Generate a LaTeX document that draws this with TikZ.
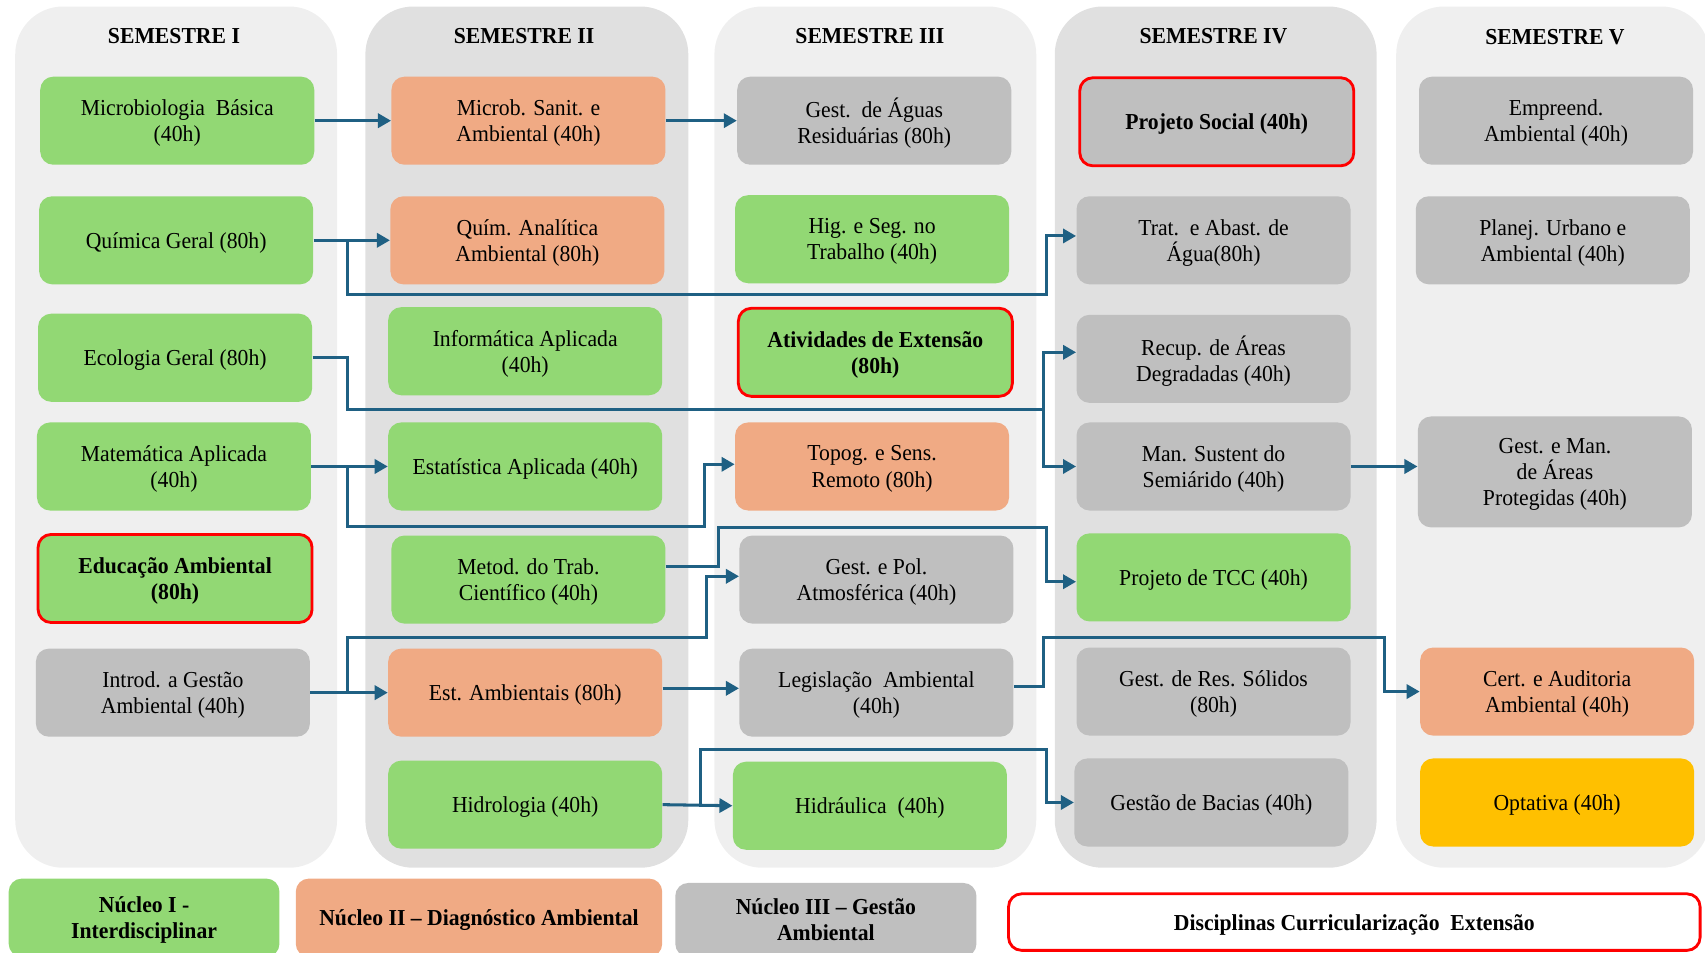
\documentclass[tikz,border=0pt]{standalone}
\usepackage{fontspec}
\setmainfont{Liberation Serif}[FakeStretch=0.95]
\usetikzlibrary{arrows.meta,calc}
\definecolor{grn}{RGB}{146,216,116}
\definecolor{org}{RGB}{240,170,132}
\definecolor{gry}{RGB}{191,191,191}
\definecolor{ylw}{RGB}{255,192,0}
\definecolor{panL}{RGB}{239,239,239}
\definecolor{panD}{RGB}{224,224,224}
\definecolor{lnk}{RGB}{31,96,131}
\definecolor{redb}{RGB}{255,0,0}
\begin{document}
\begin{tikzpicture}[x=0.5pt,y=-0.5pt,
  panel/.style={rounded corners=22pt, draw=none, inner sep=0pt},
  title/.style={font=\fontsize{10.5}{12}\selectfont\bfseries, inner sep=0pt},
  box/.style={rounded corners=6pt, draw=none, minimum width=126pt, minimum height=40.5pt, align=center, inner sep=1pt, text depth=0pt, font=\fontsize{10.5}{12}\selectfont},
  ext/.style={draw=redb, line width=1.3pt, font=\fontsize{10.5}{12}\selectfont\bfseries},
  legend/.style={rounded corners=6pt, draw=none, align=center, inner sep=1pt, text depth=0pt, font=\fontsize{10.5}{12}\selectfont\bfseries},
  link/.style={draw=lnk, line width=1.4pt},
  arr/.style={link, -{Triangle[length=6pt,width=6.5pt]}}
]
\useasboundingbox (0,0) rectangle (1568,876);
\clip (0,0) rectangle (1568,876);
% panels
\node[panel, fill=panL, minimum width=148pt, minimum height=396pt] (p1) at (162,402) {};
\node[panel, fill=panD, minimum width=148.5pt, minimum height=396pt] (p2) at (484.5,402) {};
\node[panel, fill=panL, minimum width=148pt, minimum height=396pt] (p3) at (805,402) {};
\node[panel, fill=panD, minimum width=148pt, minimum height=396pt] (p4) at (1118,402) {};
\node[panel, fill=panL, minimum width=144pt, minimum height=396pt] (p5) at (1428,402) {};
% titles
\node[title] (t1) at (160,33) {SEMESTRE I};
\node[title] (t2) at (482,33) {SEMESTRE II};
\node[title] (t3) at (800,33) {SEMESTRE III};
\node[title] (t4) at (1116,33) {SEMESTRE IV};
\node[title] (t5) at (1430,34) {SEMESTRE V};
% semester I
\node[box, fill=grn] (mic) at (163,111) {Microbiologia\ \ Básica\\(40h)};
\node[box, fill=grn] (qui) at (162,221) {Química Geral (80h)};
\node[box, fill=grn] (eco) at (161,329) {Ecologia Geral (80h)};
\node[box, fill=grn] (mat) at (160,429) {Matemática Aplicada\\(40h)};
\node[box, fill=grn, ext] (edu) at (161,532) {Educação Ambiental\\(80h)};
\node[box, fill=gry] (int) at (159,637) {Introd. a Gestão\\Ambiental (40h)};
% semester II
\node[box, fill=org] (mis) at (486,111) {Microb. Sanit. e\\Ambiental (40h)};
\node[box, fill=org] (qan) at (485,221) {Quím. Analítica\\Ambiental (80h)};
\node[box, fill=grn] (inf) at (483,323) {Informática Aplicada\\(40h)};
\node[box, fill=grn] (est) at (483,429) {Estatística Aplicada (40h)};
\node[box, fill=grn] (met) at (486,533) {Metod. do Trab.\\Científico (40h)};
\node[box, fill=org] (esa) at (483,637) {Est. Ambientais (80h)};
\node[box, fill=grn] (hid) at (483,740) {Hidrologia (40h)};
% semester III
\node[box, fill=gry] (agu) at (804,111) {Gest.\ \ de Águas\\Residuárias (80h)};
\node[box, fill=grn] (hig) at (802,220) {Hig. e Seg. no\\Trabalho (40h)};
\node[box, fill=grn, ext] (ati) at (805,324) {Atividades de Extensão\\(80h)};
\node[box, fill=org] (top) at (802,429) {Topog. e Sens.\\Remoto (80h)};
\node[box, fill=gry] (gpa) at (806,533) {Gest. e Pol.\\Atmosférica (40h)};
\node[box, fill=gry] (leg) at (806,637) {Legislação\ \ Ambiental\\(40h)};
\node[box, fill=grn] (hdr) at (800,741) {Hidráulica\ \ (40h)};
% semester IV
\node[box, fill=gry, ext] (pso) at (1119,112) {Projeto Social (40h)};
\node[box, fill=gry] (tra) at (1116,221) {Trat.\ \ e Abast. de\\Água(80h)};
\node[box, fill=gry] (rec) at (1116,330) {Recup. de Áreas\\Degradadas (40h)};
\node[box, fill=gry] (man) at (1116,429) {Man. Sustent do\\Semiárido (40h)};
\node[box, fill=grn] (tcc) at (1116,531) {Projeto de TCC (40h)};
\node[box, fill=gry] (res) at (1116,636) {Gest. de Res. Sólidos\\(80h)};
\node[box, fill=gry] (bac) at (1114,738) {Gestão de Bacias (40h)};
% semester V
\node[box, fill=gry] (emp) at (1431,111) {Empreend.\\Ambiental (40h)};
\node[box, fill=gry] (pla) at (1428,221) {Planej. Urbano e\\Ambiental (40h)};
\node[box, fill=gry, minimum height=51pt] (gma) at (1430,434) {Gest. e Man.\\de Áreas\\Protegidas (40h)};
\node[box, fill=org] (cer) at (1432,636) {Cert. e Auditoria\\Ambiental (40h)};
\node[box, fill=ylw] (opt) at (1432,738) {Optativa (40h)};
% legend
\node[legend, fill=grn, minimum width=124.5pt, minimum height=36pt] (l1) at (132.5,844) {Núcleo I -\\Interdisciplinar};
\node[legend, fill=org, minimum width=168.5pt, minimum height=36pt] (l2) at (440.5,844) {Núcleo II -- Diagnóstico Ambiental};
\node[legend, fill=gry, minimum width=138.5pt, minimum height=34pt] (l3) at (759.5,846) {Núcleo III -- Gestão\\Ambiental};
\node[legend, fill=white, draw=redb, line width=1.3pt, minimum width=318pt, minimum height=26pt] (l4) at (1245.5,848) {Disciplinas Curricularização\ \ Extensão};
% connectors
\coordinate (b1) at (320,0);
\coordinate (b3) at (644,0);
\draw[arr] (mic.east) -- (mis.west);
\draw[arr] (mis.east) -- (agu.west);
\draw[arr] (qui.east) -- (qan.west);
\draw[arr] (qui.east -| b1) |- (962,271) |- ([yshift=2pt]tra.west);
\draw[arr] (eco.east) -| (320,377) -- (960,377) |- ([yshift=3pt]rec.west);
\draw[arr] (960,377) |- (man.west);
\draw[arr] (mat.east) -- (est.west);
\draw[arr] (mat.east -| b1) |- (648,484) |- ([yshift=1pt]top.west);
\draw[arr] ([yshift=6pt]met.east) -| (661,485) -- (962,485) |- ([yshift=-2pt]tcc.west);
\draw[arr] (int.east) -- (esa.west);
\draw[arr] (int.east -| b1) |- (650,586) |- ([yshift=1.5pt]gpa.west);
\draw[arr] ([yshift=2pt]esa.east) -- ([yshift=2pt]leg.west);
\draw[arr] ([yshift=3pt]leg.east) -| (960,586) -| (1273,636) -- (cer.west);
\draw[arr] (hid.east) -- (hdr.west);
\draw[arr] (hid.east -| b3) |- (962,689) |- (bac.west);
\draw[arr] (man.east) -- (man.east -| gma.west);
\end{tikzpicture}
\end{document}
